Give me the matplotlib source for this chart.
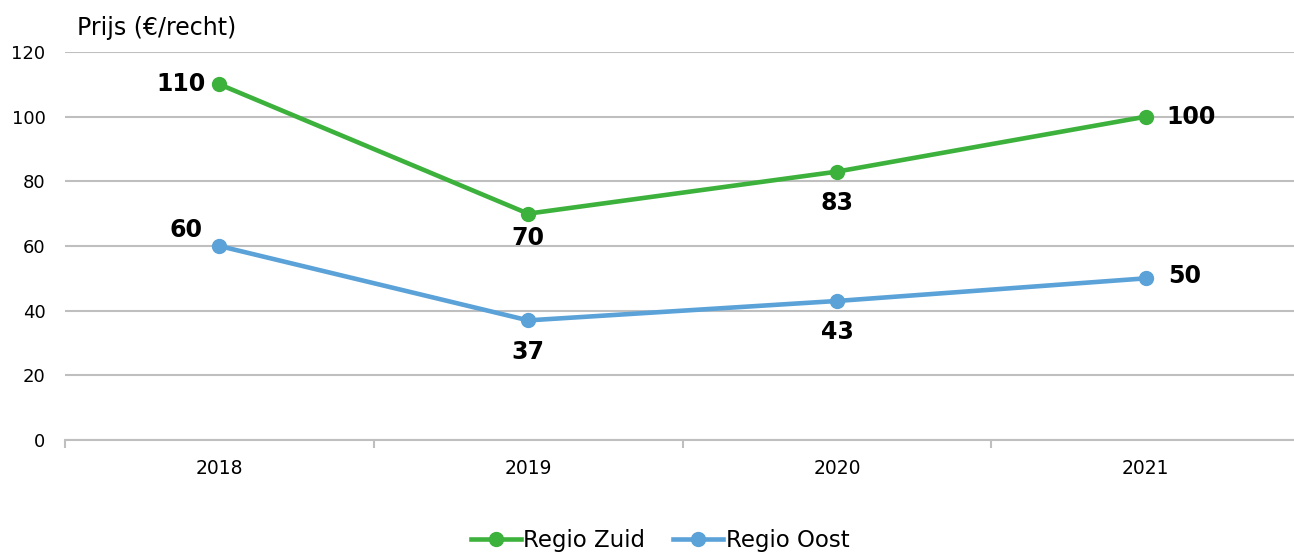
import matplotlib
matplotlib.use('Agg')
from matplotlib import pyplot as plt
from matplotlib.ticker import FixedLocator
import numpy as np

# gegevens
jaren = ['2018', '2019', '2020', '2021']
zuid = [110, 70, 83, 100]
oost = [60, 37, 43, 50]

groen = '#3cb13c'
blauw = '#5aa2d8'
grijs = '#bfbfbf'

# positie van de labels t.o.v. het punt (punten offset)
zuid_pos = [(-10, 0, 'right', 'center'), (0, -9, 'center', 'top'),
            (0, -14, 'center', 'top'), (15, 0, 'left', 'center')]
oost_pos = [(-12, 3, 'right', 'bottom'), (0, -14, 'center', 'top'),
            (0, -14, 'center', 'top'), (16, 2, 'left', 'center')]

plt.rcParams['font.family'] = ['DejaVu Sans']

fig = plt.figure(figsize=(12.94, 5.53), dpi=100)
ax = fig.add_axes([0.0502, 0.2043, 0.9498, 0.7017])

x = np.arange(len(jaren))
ax.plot(x, zuid, color=groen, lw=3.3, marker='o', ms=10, label='Regio Zuid', zorder=3)
ax.plot(x, oost, color=blauw, lw=3.3, marker='o', ms=10, label='Regio Oost', zorder=3)

for i in range(len(jaren)):
    dx, dy, ha, va = zuid_pos[i]
    ax.annotate(str(zuid[i]), (x[i], zuid[i]), xytext=(dx, dy), textcoords='offset points',
                ha=ha, va=va, fontsize=17, fontweight='bold', color='black')
    dx, dy, ha, va = oost_pos[i]
    ax.annotate(str(oost[i]), (x[i], oost[i]), xytext=(dx, dy), textcoords='offset points',
                ha=ha, va=va, fontsize=17, fontweight='bold', color='black')

ax.set_ylim(0, 120)
ax.set_xlim(-0.5, 3.48)
ax.set_yticks(range(0, 121, 20))
ax.set_xticks(x)
ax.set_xticklabels(jaren)
ax.xaxis.set_minor_locator(FixedLocator([-0.5, 0.5, 1.5, 2.5, 3.5]))
ax.tick_params(axis='x', which='major', length=0, pad=14, labelsize=13.5)
ax.tick_params(axis='x', which='minor', length=6, color=grijs, width=1.5)
ax.tick_params(axis='y', length=0, pad=14, labelsize=13)
ax.yaxis.grid(True, color=grijs, lw=1.5)
ax.set_axisbelow(True)
for s in ['top', 'right', 'left']:
    ax.spines[s].set_visible(False)
ax.spines['bottom'].set_color(grijs)
ax.spines['bottom'].set_linewidth(1.5)

fig.text(0.0595, 0.95, 'Prijs (€/recht)', fontsize=17, ha='left', va='center')

fig.legend(loc='center', bbox_to_anchor=(0.51, 0.022), ncol=2, frameon=False,
           fontsize=16.5, handlelength=2.2, columnspacing=1.2, handletextpad=0.1)

plt.savefig('out.png', dpi=100)
